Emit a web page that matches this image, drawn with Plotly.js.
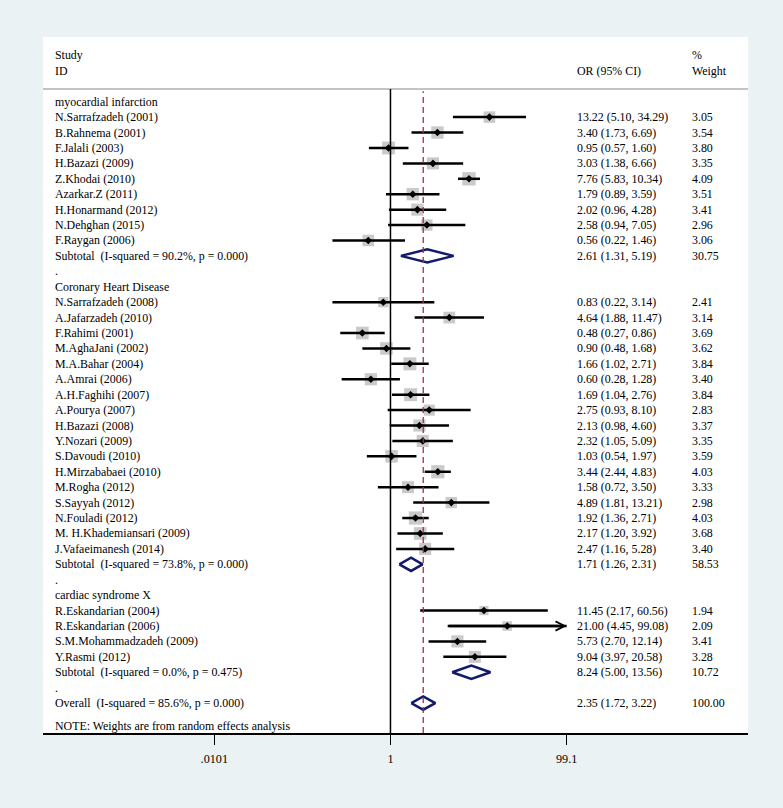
<!DOCTYPE html>
<html>
<head>
<meta charset="utf-8">
<script src="https://cdn.plot.ly/plotly-3.0.1.min.js"></script>
<style>
  html, body { margin: 0; padding: 0; background: #eaf2f3; }
  #chart { width: 783px; height: 808px; }
</style>
</head>
<body>
<div id="chart"></div>
<script>
// Study level data (OR, 95% CI, % weight)
const studyNames = [
  'N.Sarrafzadeh (2001)', 'B.Rahnema (2001)', 'F.Jalali (2003)', 'H.Bazazi (2009)',
  'Z.Khodai (2010)', 'Azarkar.Z (2011)', 'H.Honarmand (2012)', 'N.Dehghan (2015)',
  'F.Raygan (2006)',
  'N.Sarrafzadeh (2008)', 'A.Jafarzadeh (2010)', 'F.Rahimi (2001)', 'M.AghaJani (2002)',
  'M.A.Bahar (2004)', 'A.Amrai (2006)', 'A.H.Faghihi (2007)', 'A.Pourya (2007)',
  'H.Bazazi (2008)', 'Y.Nozari (2009)', 'S.Davoudi (2010)', 'H.Mirzababaei (2010)',
  'M.Rogha (2012)', 'S.Sayyah (2012)', 'N.Fouladi (2012)', 'M. H.Khademiansari (2009)',
  'J.Vafaeimanesh (2014)',
  'R.Eskandarian (2004)', 'R.Eskandarian (2006)', 'S.M.Mohammadzadeh (2009)', 'Y.Rasmi (2012)'
];
const studyGroup = [
  0, 0, 0, 0, 0, 0, 0, 0, 0,
  1, 1, 1, 1, 1, 1, 1, 1, 1, 1, 1, 1, 1, 1, 1, 1, 1,
  2, 2, 2, 2
];
const orEst = [
  13.22, 3.40, 0.95, 3.03, 7.76, 1.79, 2.02, 2.58, 0.56,
  0.83, 4.64, 0.48, 0.90, 1.66, 0.60, 1.69, 2.75, 2.13, 2.32, 1.03, 3.44, 1.58, 4.89, 1.92, 2.17, 2.47,
  11.45, 21.00, 5.73, 9.04
];
const ciLow = [
  5.10, 1.73, 0.57, 1.38, 5.83, 0.89, 0.96, 0.94, 0.22,
  0.22, 1.88, 0.27, 0.48, 1.02, 0.28, 1.04, 0.93, 0.98, 1.05, 0.54, 2.44, 0.72, 1.81, 1.36, 1.20, 1.16,
  2.17, 4.45, 2.70, 3.97
];
const ciHigh = [
  34.29, 6.69, 1.60, 6.66, 10.34, 3.59, 4.28, 7.05, 1.46,
  3.14, 11.47, 0.86, 1.68, 2.71, 1.28, 2.76, 8.10, 4.60, 5.09, 1.97, 4.83, 3.50, 13.21, 2.71, 3.92, 5.28,
  60.56, 99.08, 12.14, 20.58
];
const weights = [
  3.05, 3.54, 3.80, 3.35, 4.09, 3.51, 3.41, 2.96, 3.06,
  2.41, 3.14, 3.69, 3.62, 3.84, 3.40, 3.84, 2.83, 3.37, 3.35, 3.59, 4.03, 3.33, 2.98, 4.03, 3.68, 3.40,
  1.94, 2.09, 3.41, 3.28
];

// Subgroup pooled estimates
const groupNames = ['myocardial infarction', 'Coronary Heart Disease', 'cardiac syndrome X'];
const groupI2 = ['90.2%', '73.8%', '0.0%'];
const groupP = ['0.000', '0.000', '0.475'];
const groupOR = [2.61, 1.71, 8.24];
const groupLow = [1.31, 1.26, 5.00];
const groupHigh = [5.19, 2.31, 13.56];
const groupWeight = [30.75, 58.53, 10.72];

// Overall pooled estimate
const overallI2 = '85.6%';
const overallP = '0.000';
const overallOR = 2.35;
const overallLow = 1.72;
const overallHigh = 3.22;
const overallWeight = 100.00;

// axis ticks
const tickVals = [0.0101, 1, 99.1];
const tickText = ['.0101', '1', '99.1'];

const FONT = 'Liberation Serif, Times New Roman, serif';
const FS = 11.9;
const NAVY = '#121a6c';

// ---- build row layout
const annotations = [];
const txt = (x, y, s) => annotations.push({
  xref: 'paper', yref: 'y', x: x, y: y, text: s, showarrow: false,
  xanchor: 'left', yanchor: 'middle', font: { family: FONT, size: FS, color: '#000' },
});
const COL_STUDY = 0.0142, COL_OR = 0.754, COL_W = 0.9177;
const fmtCI = (e, l, h) => `${e.toFixed(2)} (${l.toFixed(2)}, ${h.toFixed(2)})`;

const ciX = [], ciY = [];
const ptX = [], ptY = [], ptSize = [];
const diamonds = [];
let row = 0;

groupNames.forEach((g, gi) => {
  txt(COL_STUDY, row, g);
  row++;
  studyNames.forEach((name, i) => {
    if (studyGroup[i] !== gi) return;
    txt(COL_STUDY, row, name);
    txt(COL_OR, row, fmtCI(orEst[i], ciLow[i], ciHigh[i]));
    txt(COL_W, row, weights[i].toFixed(2));
    ciX.push(ciLow[i], ciHigh[i], null);
    ciY.push(row, row, null);
    ptX.push(orEst[i]);
    ptY.push(row);
    ptSize.push(6.6 * Math.sqrt(weights[i]));
    if (ciHigh[i] > 90) {
      // truncated CI -> arrow
      annotations.push({
        xref: 'x', yref: 'y', axref: 'x', ayref: 'y',
        x: Math.log10(ciHigh[i]), y: row, ax: Math.log10(ciLow[i]), ay: row,
        text: '', showarrow: true, arrowhead: 5, arrowsize: 0.75, arrowwidth: 2.4,
        arrowcolor: '#000', standoff: 0, startstandoff: 0,
      });
    }
    row++;
  });
  txt(COL_STUDY, row, `Subtotal\u00a0 (I-squared = ${groupI2[gi]}, p = ${groupP[gi]})`);
  txt(COL_OR, row, fmtCI(groupOR[gi], groupLow[gi], groupHigh[gi]));
  txt(COL_W, row, groupWeight[gi].toFixed(2));
  diamonds.push({ e: groupOR[gi], l: groupLow[gi], h: groupHigh[gi], r: row });
  row++;
  txt(COL_STUDY, row, '.');
  row++;
});

txt(COL_STUDY, row, `Overall\u00a0 (I-squared = ${overallI2}, p = ${overallP})`);
txt(COL_OR, row, fmtCI(overallOR, overallLow, overallHigh));
txt(COL_W, row, overallWeight.toFixed(2));
diamonds.push({ e: overallOR, l: overallLow, h: overallHigh, r: row });
txt(COL_STUDY, row + 1.5, 'NOTE: Weights are from random effects analysis');

// headers
txt(COL_STUDY, -3, 'Study');
txt(COL_STUDY, -2, 'ID');
txt(COL_OR, -2, 'OR (95% CI)');
txt(COL_W, -3, '%');
txt(COL_W, -2, 'Weight');

const dh = 0.43;
const dX = [], dY = [];
diamonds.forEach((d) => {
  dX.push(d.l, d.e, d.h, d.e, d.l, null);
  dY.push(d.r, d.r - dh, d.r, d.r + dh, d.r, null);
});

const traces = [
  {
    x: ptX, y: ptY, type: 'scatter', mode: 'markers', hoverinfo: 'skip',
    marker: { symbol: 'square', size: ptSize, color: '#b3b3b3', line: { width: 0 } },
  },
  {
    x: ciX, y: ciY, type: 'scatter', mode: 'lines', hoverinfo: 'skip',
    line: { color: '#000', width: 2.5 },
  },
  {
    x: ptX, y: ptY, type: 'scatter', mode: 'markers', hoverinfo: 'skip',
    marker: { symbol: 'diamond', size: 5.8, color: '#000' },
  },
  {
    x: dX, y: dY, type: 'scatter', mode: 'lines', hoverinfo: 'skip',
    line: { color: NAVY, width: 2.5 },
  },
];

const layout = {
  width: 783,
  height: 808,
  margin: { l: 43, r: 35, t: 37, b: 75 },
  paper_bgcolor: '#eaf2f3',
  plot_bgcolor: '#ffffff',
  showlegend: false,
  font: { family: FONT, size: FS, color: '#000' },
  xaxis: {
    type: 'log',
    range: [-3.936, 4.05],
    tickvals: tickVals,
    ticktext: tickText,
    ticks: 'outside',
    ticklen: 10,
    tickwidth: 1.5,
    tickcolor: '#000',
    showline: true,
    linecolor: '#000',
    linewidth: 1.5,
    showgrid: false,
    zeroline: false,
    ticklabelstandoff: 4,
    tickfont: { family: FONT, size: 12.2, color: '#000' },
  },
  yaxis: {
    range: [40.94, -4.196],
    showgrid: false,
    zeroline: false,
    showticklabels: false,
    ticks: '',
  },
  shapes: [
    // header rule
    { type: 'line', xref: 'paper', yref: 'paper', x0: 0, x1: 1, y0: 0.9253, y1: 0.9253,
      line: { color: '#c4c4c4', width: 2 } },
    // null line
    { type: 'line', xref: 'x', yref: 'paper', x0: 1, x1: 1, y0: 0, y1: 0.9253,
      line: { color: '#000', width: 1.5 } },
    // overall estimate line
    { type: 'line', xref: 'x', yref: 'paper', x0: overallOR, x1: overallOR, y0: 0, y1: 0.922,
      line: { color: '#a3303e', width: 1.3, dash: '6px,4px' } },
  ],
  annotations: annotations,
};

Plotly.newPlot('chart', traces, layout, { displayModeBar: false, staticPlot: true });
</script>
</body>
</html>
